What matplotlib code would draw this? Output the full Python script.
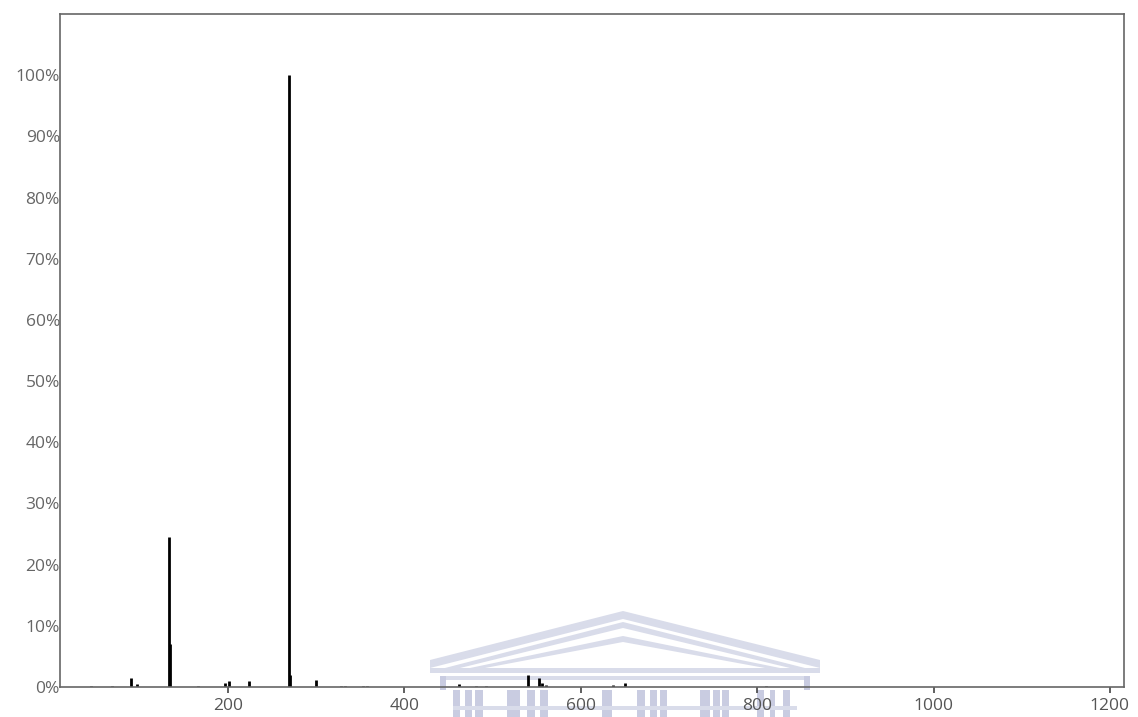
import matplotlib
matplotlib.use("Agg")
import matplotlib.pyplot as plt
from matplotlib.patches import Polygon, Rectangle

# m/z values and relative intensities (%)
mz = [44, 68, 90, 97, 133, 134, 166, 196, 201, 224, 269, 270, 300,
      328, 333, 353, 358, 462, 481, 493, 540, 553, 556, 560, 636, 650, 810]
intensity = [0.1, 0.1, 1.5, 0.5, 24.5, 7.0, 0.1, 0.6, 1.0, 1.0, 100.0, 1.9, 1.2,
             0.2, 0.2, 0.2, 0.2, 0.5, 0.1, 0.1, 1.9, 1.5, 0.6, 0.3, 0.3, 0.6, 0.2]

xticks = [200, 400, 600, 800, 1000, 1200]
yticks = list(range(0, 101, 10))
ylabels = [f"{v}%" for v in yticks]

W, H = 1138, 717
fig = plt.figure(figsize=(W / 100, H / 100), dpi=100)
fig.patch.set_facecolor("white")

L, R, T, B = 60, 1124, 14, 687
ax = fig.add_axes([L / W, 1 - B / H, (R - L) / W, (B - T) / H])
ax.set_facecolor("none")
ax.set_zorder(2)

ax.vlines(mz, 0, intensity, colors="black", linewidth=2.0)

ax.set_xlim(9.4, 1216)
ax.set_ylim(0, 110)
ax.set_xticks(xticks)
ax.set_xticklabels([str(v) for v in xticks])
ax.set_yticks(yticks)
ax.set_yticklabels(ylabels)

for s in ax.spines.values():
    s.set_color("#666666")
    s.set_linewidth(1.2)

ax.tick_params(axis="x", direction="out", length=4, width=1.2, color="#444444",
               labelsize=12.5, labelcolor="#555555", pad=4)
ax.tick_params(axis="y", length=0, labelsize=12.5, labelcolor="#666666", pad=0)
for lab in ax.get_xticklabels() + ax.get_yticklabels():
    lab.set_fontfamily("Open Sans")

# faint watermark (building logo) behind the chart
wm_light = "#d9dcea"
wm = "#c9cce1"
def P(pts, color):
    fig.add_artist(Polygon([(x / W, 1 - y / H) for x, y in pts], closed=True,
                           transform=fig.transFigure, zorder=0.5,
                           facecolor=color, edgecolor="none"))
def Rct(x0, y0, x1, y1, color):
    fig.add_artist(Rectangle((x0 / W, 1 - y1 / H), (x1 - x0) / W, (y1 - y0) / H,
                             transform=fig.transFigure, facecolor=color,
                             edgecolor="none", zorder=0.5))

# pediment chevrons
P([(430, 660), (623, 611), (820, 660), (820, 668), (623, 619), (430, 668)], wm_light)
P([(445, 668), (623, 622), (805, 668), (790, 668), (623, 628), (460, 668)], wm_light)
P([(470, 668), (623, 636), (780, 668), (765, 668), (623, 642), (485, 668)], wm_light)
Rct(430, 668, 820, 673, wm_light)
Rct(440, 676, 810, 680, wm_light)
Rct(440, 676, 446, 690, wm)
Rct(804, 676, 810, 690, wm)
# columns
for x0, x1 in [(453, 460), (465, 472), (475, 483), (507, 520), (527, 535),
               (540, 548), (602, 612), (637, 645), (650, 657), (660, 667),
               (700, 710), (713, 720), (722, 729), (757, 764), (770, 775),
               (783, 790)]:
    Rct(x0, 690, x1, 717, wm)
Rct(453, 706, 797, 710, wm_light)

fig.savefig("out.png", dpi=100)
